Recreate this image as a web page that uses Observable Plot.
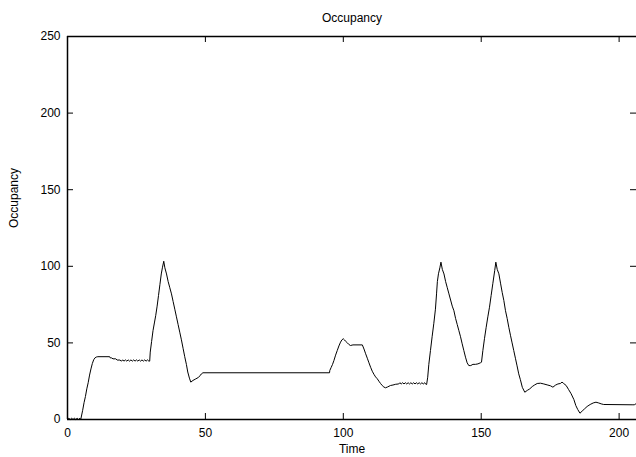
<!DOCTYPE html>
<html>
<head>
<meta charset="utf-8">
<script src="https://cdn.jsdelivr.net/npm/d3@7"></script>
<script src="https://cdn.jsdelivr.net/npm/@observablehq/plot@0.6"></script>
<style>
  html, body { margin: 0; padding: 0; background: #fff; }
</style>
</head>
<body>
<div id="chart"></div>
<script>
const titleText = "Occupancy";
const xLabel = "Time";
const yLabel = "Occupancy";
const xTicks = [0, 50, 100, 150, 200];
const yTicks = [0, 50, 100, 150, 200, 250];

const time = [
  0, 0.5, 1, 1.5, 2, 2.5, 3, 3.5, 4, 4.5, 4.8,
  5.5, 6, 6.5, 7, 7.5, 8, 8.5, 9, 9.5, 10, 10.5, 11, 15.3, 15.5, 16, 16.5, 17.5, 18, 19, 19.6,
  20, 20.5, 21, 21.5, 22, 22.5, 23, 23.5, 24, 24.5, 25, 25.5, 26, 26.5, 27, 27.5, 28, 28.5, 29, 29.5, 29.8,
  30, 30.5, 31, 31.5, 32, 32.5, 33, 33.5, 34, 34.4, 34.9, 35.3, 35.9, 36.5, 37.1, 37.7, 38.3, 38.9, 39.5,
  40.1, 40.7, 41.3, 41.9, 42.5, 43.1, 43.6, 44.2, 44.7, 45.5, 46.5, 47.5, 48, 48.5, 49.1, 95,
  95.1, 95.6, 96.1, 96.6, 97.2, 97.8, 98.4, 99, 99.5, 100, 100.4, 100.8, 101.5, 102, 102.6, 103.5, 106.9,
  107.5, 108.1, 108.7, 109.3, 109.9, 110.5, 111.1, 111.7, 112.3, 112.9, 113.5, 114.1, 114.7, 115.3, 116,
  117.1, 118, 119, 120.1, 120.5, 121, 121.5, 122, 122.5, 123, 123.5, 124, 124.5, 125, 125.5, 126, 126.5,
  127, 127.5, 128, 128.5, 129, 129.5, 129.8,
  130.2, 130.6, 131, 131.6, 132.2, 132.8, 133.4, 133.8, 134.1, 134.5, 135, 135.4, 135.9, 136.5, 137.1,
  137.7, 138.3, 138.9, 139.5, 140.1, 140.7, 141.3, 141.9, 142.5, 143.1, 143.7, 144.3, 144.9, 145.5, 146.2,
  147, 147.9, 148.8, 149.7, 150.1, 150.6, 151.2, 151.8, 152.4, 153, 153.6, 154.2, 154.9, 155.3, 155.8,
  156.4, 157, 157.6, 158.2, 158.8, 159.4, 160, 160.6, 161.2, 161.8, 162.4, 163, 163.6, 164.2, 164.9,
  165.8, 166.7, 167.6, 168.5, 169.4, 170.3, 171.5, 172.7, 173.9, 175.1, 176, 176.9, 177.8, 178.7, 179.3,
  179.9, 180.8, 181.7, 182.6, 183.6, 184.3, 185, 185.8, 186.6, 187.5, 188.4, 189.5, 190.6, 191.6, 192.6,
  193.5, 194.4, 204.7, 205.5, 206.3
];
const occupancy = [
  0, 0.8, 0, 0.8, 0, 0.8, 0, 0.8, 0, 0.8, 0,
  6, 11, 15, 20, 24, 29, 33, 36.5, 39, 40.3, 40.8, 41, 41, 40.2, 40.2, 39.6, 39.6, 38.8, 38.8, 38.1,
  38.9, 38.1, 38.9, 38.1, 38.9, 38.1, 38.9, 38.1, 38.9, 38.1, 38.9, 38.1, 38.9, 38.1, 38.9, 38.1, 38.9, 38.1, 38.9, 38.1, 38.1,
  44, 51, 58, 63, 68, 74, 81, 88, 95, 99, 103.3, 99, 95, 90, 86, 82, 77, 72, 67,
  62, 57, 52, 46.5, 41, 36, 31, 27, 24.4, 25.5, 26.5, 27.5, 28.5, 29.7, 30.5, 30.5,
  32, 34, 36, 38.5, 42, 45, 48, 50.5, 52, 52.7, 52, 51.1, 50, 49, 48.3, 48.7, 48.7,
  46, 42.9, 40, 37, 34.1, 31.5, 29.5, 27.8, 26.6, 25, 23.5, 22.2, 21.2, 20.7, 21.2,
  22.2, 22.5, 23, 23.2, 24, 23.2, 24, 23.2, 24, 23.2, 24, 23.2, 24, 23.2, 24, 23.2, 24,
  23.2, 24, 23.2, 24, 23.2, 24, 23.2, 22.8,
  27.6, 36, 45, 54, 62.5, 72, 82, 90, 95.1, 99, 102.7, 98, 95, 90, 86,
  82, 78, 74, 71, 66, 62, 58, 54, 49.4, 45, 40.7, 37, 35.2, 35.2, 36,
  36, 36.3, 37, 37.4, 45, 53, 60.2, 67, 73.3, 81, 88.6, 97.3, 102.7, 98, 95.1,
  89, 83, 77.7, 71, 66, 60.2, 55, 50, 45, 40, 35, 29.8, 26, 21, 17.8,
  19, 20, 21.5, 22.6, 23.5, 23.7, 23.2, 22.6, 22, 21.1, 22.4, 23.2, 23.5, 24.4, 23.5,
  22.2, 19.5, 16.8, 13, 9.1, 6.5, 4.1, 5.5, 7, 8.5, 9.8, 10.8, 11.3, 10.8, 10.2,
  9.8, 9.6, 9.6, 10.5, 11.3
];

const data = time.map((t, i) => ({time: t, occupancy: occupancy[i]}));

const W = 636, H = 457;
const mL = 67, mR = 0, mT = 36, mB = 38;
const frameW = W - mL - mR, frameH = H - mT - mB;
const tickLen = 6;
const font = "'Liberation Sans', Arial, Helvetica, sans-serif";

const chart = Plot.plot({
  width: W,
  height: H,
  marginLeft: mL,
  marginRight: mR,
  marginTop: mT,
  marginBottom: mB,
  style: {fontFamily: font, fontSize: "12px", background: "#fff", color: "#000", overflow: "visible"},
  x: {domain: [0, 206.3], ticks: xTicks, tickSize: 0, tickPadding: 9, label: null},
  y: {domain: [0, 250], ticks: yTicks, tickSize: 0, tickPadding: 7, label: null},
  marks: [
    Plot.tickX(xTicks, {x: d => d, insetTop: frameH - tickLen, stroke: "#000"}),
    Plot.tickX(xTicks, {x: d => d, insetBottom: frameH - tickLen, stroke: "#000"}),
    Plot.tickY(yTicks, {y: d => d, insetRight: frameW - tickLen, stroke: "#000"}),
    Plot.tickY(yTicks, {y: d => d, insetLeft: frameW - tickLen, stroke: "#000"}),
    Plot.line(data, {x: "time", y: "occupancy", stroke: "#000", strokeWidth: 1}),
    Plot.ruleY([0], {stroke: "#000", strokeWidth: 1.5}),
    Plot.ruleY([250], {stroke: "#000", strokeWidth: 1.5}),
    Plot.ruleX([0], {stroke: "#000", strokeWidth: 1.5}),
    Plot.text([titleText], {frameAnchor: "top", dy: -18, text: d => d, fontSize: 12, fill: "#000", lineAnchor: "middle"}),
    Plot.text([xLabel], {frameAnchor: "bottom", dy: 30, text: d => d, fontSize: 12, fill: "#000", lineAnchor: "middle"}),
    Plot.text([yLabel], {frameAnchor: "left", dx: -53, rotate: -90, text: d => d, fontSize: 12, fill: "#000", lineAnchor: "middle"})
  ]
});
document.getElementById("chart").appendChild(chart);
</script>
</body>
</html>
